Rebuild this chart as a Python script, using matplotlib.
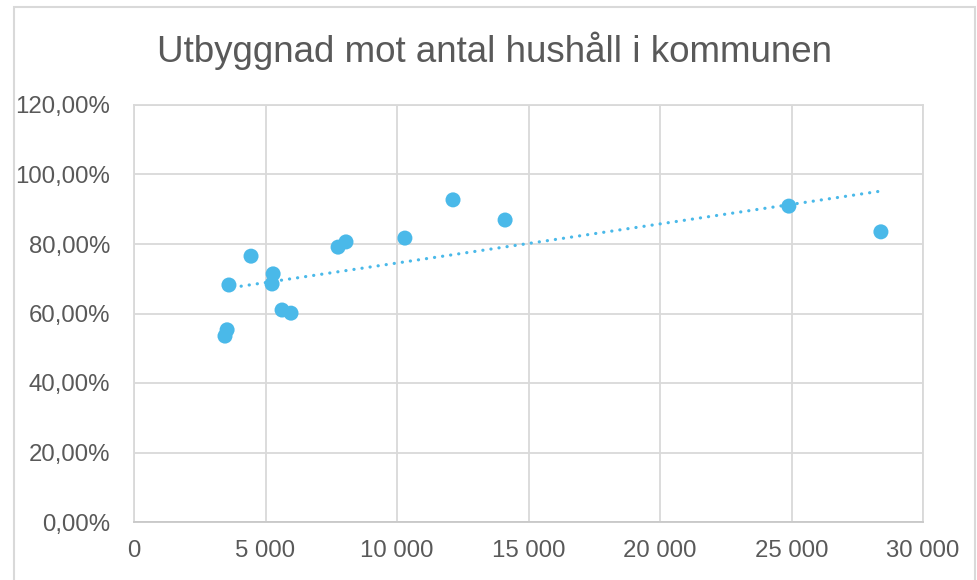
import matplotlib
matplotlib.use("Agg")
import matplotlib.pyplot as plt
from matplotlib.patches import Rectangle
from matplotlib.ticker import FuncFormatter, MultipleLocator
import numpy as np

# households in the municipality vs. share built out
hushall = [3460, 3540, 3610, 4450, 5290, 5250, 5630, 5970, 7760, 8060,
           10300, 12130, 14110, 24900, 28400]
utbyggnad = [0.535, 0.553, 0.682, 0.765, 0.714, 0.685, 0.610, 0.601, 0.791,
             0.806, 0.817, 0.927, 0.869, 0.909, 0.835]

TITLE = "Utbyggnad mot antal hushåll i kommunen"
C_PT = "#4ab9e9"
C_TXT = "#595959"
C_GRID = "#d9d9d9"

plt.rcParams["font.family"] = ["Liberation Sans", "DejaVu Sans"]

fig = plt.figure(figsize=(9.77, 5.80), dpi=100)
ax = fig.add_axes([134 / 977, 58 / 580, 789 / 977, 417 / 580])

ax.scatter(hushall, utbyggnad, s=117, color=C_PT, edgecolors="none", zorder=3)

# linear trendline
k, m = np.polyfit(hushall, utbyggnad, 1)
xs = np.array([min(hushall), max(hushall)])
ax.plot(xs, k * xs + m, color=C_PT, lw=2.3, dashes=(0.05, 2.5),
        dash_capstyle="round", zorder=2)

ax.set_xlim(0, 30000)
ax.set_ylim(0, 1.2)
ax.xaxis.set_major_locator(MultipleLocator(5000))
ax.yaxis.set_major_locator(MultipleLocator(0.2))
ax.xaxis.set_major_formatter(FuncFormatter(lambda v, p: f"{int(v):,}".replace(",", " ")))
ax.yaxis.set_major_formatter(FuncFormatter(lambda v, p: f"{v * 100:.2f}%".replace(".", ",")))
ax.tick_params(length=0, labelsize=17.3, colors=C_TXT)
ax.tick_params(axis="x", pad=13)
ax.tick_params(axis="y", pad=17)
ax.grid(True, color=C_GRID, lw=1.3, zorder=0)
ax.set_axisbelow(True)
for s in ax.spines.values():
    s.set_color(C_GRID)
    s.set_linewidth(1.3)
ax.spines["bottom"].set_color("#c8c8c8")

fig.text(495 / 977, 1 - 51 / 580, TITLE, ha="center", va="center",
         fontsize=26.5, color=C_TXT)

fig.add_artist(Rectangle((13.5 / 977, -0.05), (975 - 13.5) / 977, 1.05 - 7 / 580,
                         transform=fig.transFigure, fill=False,
                         edgecolor=C_GRID, lw=1.5))

fig.savefig("out.png", dpi=100)
